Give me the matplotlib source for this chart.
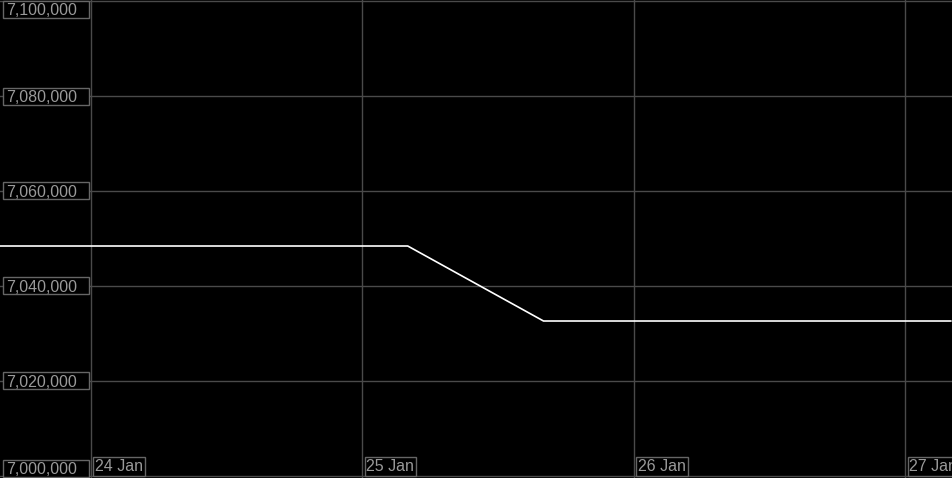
import matplotlib
matplotlib.use("Agg")
import matplotlib.pyplot as plt
import matplotlib.dates as mdates
from matplotlib.patches import Rectangle
import datetime as dt

# Data
times = ["2024-01-23 16:00", "2024-01-24 04:00", "2024-01-24 16:00", "2024-01-25 04:00",
         "2024-01-25 16:00", "2024-01-26 04:00", "2024-01-26 16:00", "2024-01-27 04:00"]
values = [7048420, 7048420, 7048420, 7048420, 7032630, 7032630, 7032630, 7032630]
y_ticks = [7000000, 7020000, 7040000, 7060000, 7080000, 7100000]
x_tick_dates = ["2024-01-24", "2024-01-25", "2024-01-26", "2024-01-27"]
x_tick_labels = ["24 Jan", "25 Jan", "26 Jan", "27 Jan"]

t = mdates.date2num([dt.datetime.strptime(s, "%Y-%m-%d %H:%M") for s in times])
xt = mdates.date2num([dt.datetime.strptime(s, "%Y-%m-%d") for s in x_tick_dates])

W, H = 953, 478
plt.rcParams['font.family'] = ['Liberation Sans', 'DejaVu Sans']
fig = plt.figure(figsize=(W / 100, H / 100), dpi=100, facecolor='black')
ax = fig.add_axes([0, 0, 1, 1])
ax.set_facecolor('black')

ax.plot(t, values, color='white', lw=1.2, zorder=3)

# Scales
per_px = 20000 / 95.0
ylo, yhi = 7000000 - 2 * per_px, 7100000 + 1 * per_px
ax.set_ylim(ylo, yhi)
day_px = 271.5
x0 = xt[0]
xlo, xhi = x0 - 91 / day_px, x0 + (W - 91) / day_px
ax.set_xlim(xlo, xhi)

for s in ax.spines.values():
    s.set_visible(False)
ax.set_xticks([])
ax.set_yticks([])

grid_c = '#4a4a4a'
for yv in y_ticks:
    ax.axhline(yv, color=grid_c, lw=1, zorder=1)
for xv in xt:
    ax.axvline(xv, color=grid_c, lw=1, zorder=1)

txt_c = '#9a9a9a'
edge_c = '#666666'
fs = 11.5

# y labels with fixed-width boxes
for yv in y_ticks:
    yp = (yv - ylo) / (yhi - ylo) * H  # pixel from bottom
    yc = min(max(yp, 9.5), H - 9)
    fig.patches.append(Rectangle(((3.5) / W, (yc - 8.5) / H), 85 / W, 17 / H,
                                 transform=fig.transFigure, fc='black', ec=edge_c,
                                 lw=1, zorder=4))
    fig.text(6 / W, yc / H, f"{yv:,}", ha='left', va='center_baseline', fontsize=fs,
             color=txt_c, zorder=5)

# x labels
box = dict(boxstyle='square,pad=0.12', fc='black', ec=edge_c, lw=1)
trx = ax.get_xaxis_transform()
for xv, lab in zip(xt, x_tick_labels):
    ax.annotate(lab, xy=(xv, 0), xycoords=trx, xytext=(4, 4),
                textcoords='offset pixels', ha='left', va='bottom', fontsize=fs,
                color=txt_c, bbox=box, zorder=4, annotation_clip=False)

fig.savefig('out.png', dpi=100, facecolor='black')
